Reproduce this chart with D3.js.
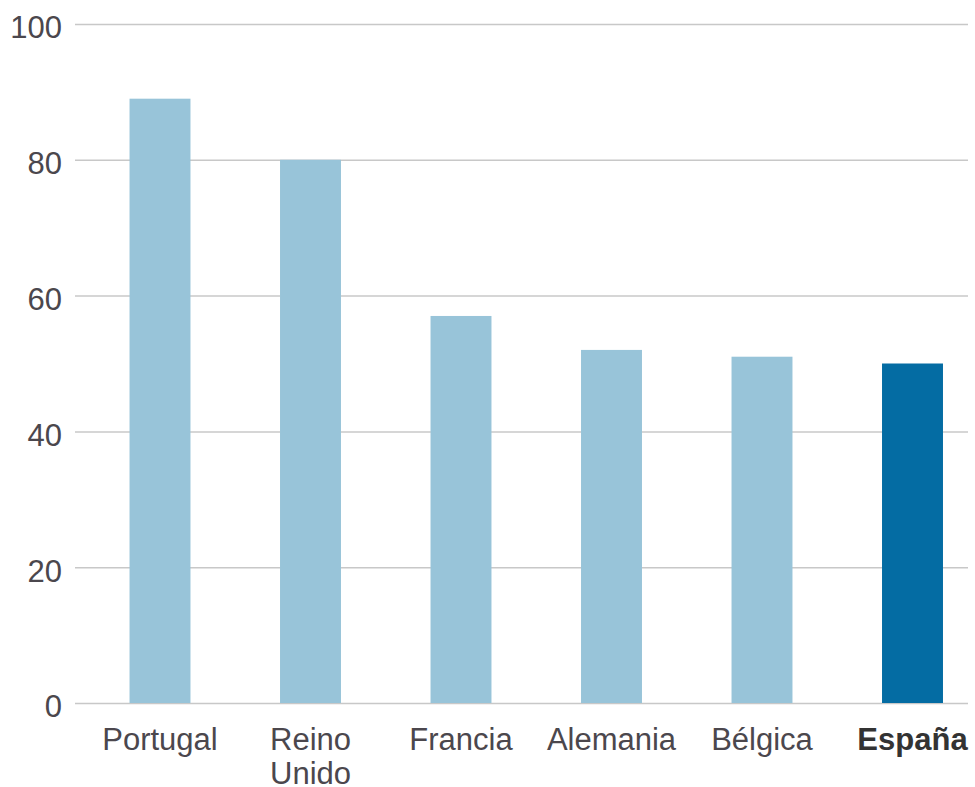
<!DOCTYPE html>
<html>
<head>
<meta charset="utf-8">
<script src="https://cdn.jsdelivr.net/npm/d3@7"></script>
<style>
  body { margin: 0; background: #fff; }
  text { font-family: "Liberation Sans", Arial, sans-serif; }
</style>
</head>
<body>
<script>
const width = 975;
const height = 787;

// data
const countries = ["Portugal", "Reino Unido", "Francia", "Alemania", "Bélgica", "España"];
const values = [89, 80, 57, 52, 51, 50];
const yTicks = [0, 20, 40, 60, 80, 100];
const highlight = "España";

const lightColor = "#98c4d9";
const darkColor = "#046ca3";
const gridColor = "#c8c8c8";
const textColor = "#4b474d";

const gridLeft = 75, gridRight = 968;

const x = d3.scaleBand()
    .domain(countries)
    .range([84.75, 987.75])
    .paddingInner(0.595)
    .paddingOuter(0.2975);

const y = d3.scaleLinear()
    .domain([0, 100])
    .range([703, 24]);

const svg = d3.select("body").append("svg")
    .attr("width", width)
    .attr("height", height);

// gridlines + y labels
const yAxis = svg.append("g")
    .attr("transform", `translate(${gridRight},0)`)
    .call(d3.axisLeft(y)
        .tickValues(yTicks)
        .tickSize(gridRight - gridLeft)
        .tickPadding(13)
        .tickFormat(d3.format("d")));

yAxis.select(".domain").remove();
yAxis.selectAll(".tick line")
    .attr("stroke", gridColor)
    .attr("stroke-width", 1.5);
yAxis.selectAll(".tick text")
    .attr("fill", textColor)
    .attr("font-size", 31)
    .attr("dy", "0.45em");

// bars
svg.append("g").selectAll("rect")
    .data(countries)
    .join("rect")
    .attr("x", d => x(d))
    .attr("width", x.bandwidth())
    .attr("y", (d, i) => y(values[i]))
    .attr("height", (d, i) => y(0) - y(values[i]))
    .attr("fill", d => d === highlight ? darkColor : lightColor);

// x labels
const labels = svg.append("g").selectAll("text")
    .data(countries)
    .join("text")
    .attr("x", d => x(d) + x.bandwidth() / 2)
    .attr("y", 750)
    .attr("text-anchor", "middle")
    .attr("font-size", 31)
    .attr("fill", d => d === highlight ? "#333" : textColor)
    .attr("font-weight", d => d === highlight ? "bold" : "normal");

labels.each(function(d) {
    const words = d.split(" ");
    const t = d3.select(this);
    words.forEach((w, i) => {
        t.append("tspan")
            .attr("x", x(d) + x.bandwidth() / 2)
            .attr("dy", i === 0 ? 0 : 34)
            .text(w);
    });
});
</script>
</body>
</html>
